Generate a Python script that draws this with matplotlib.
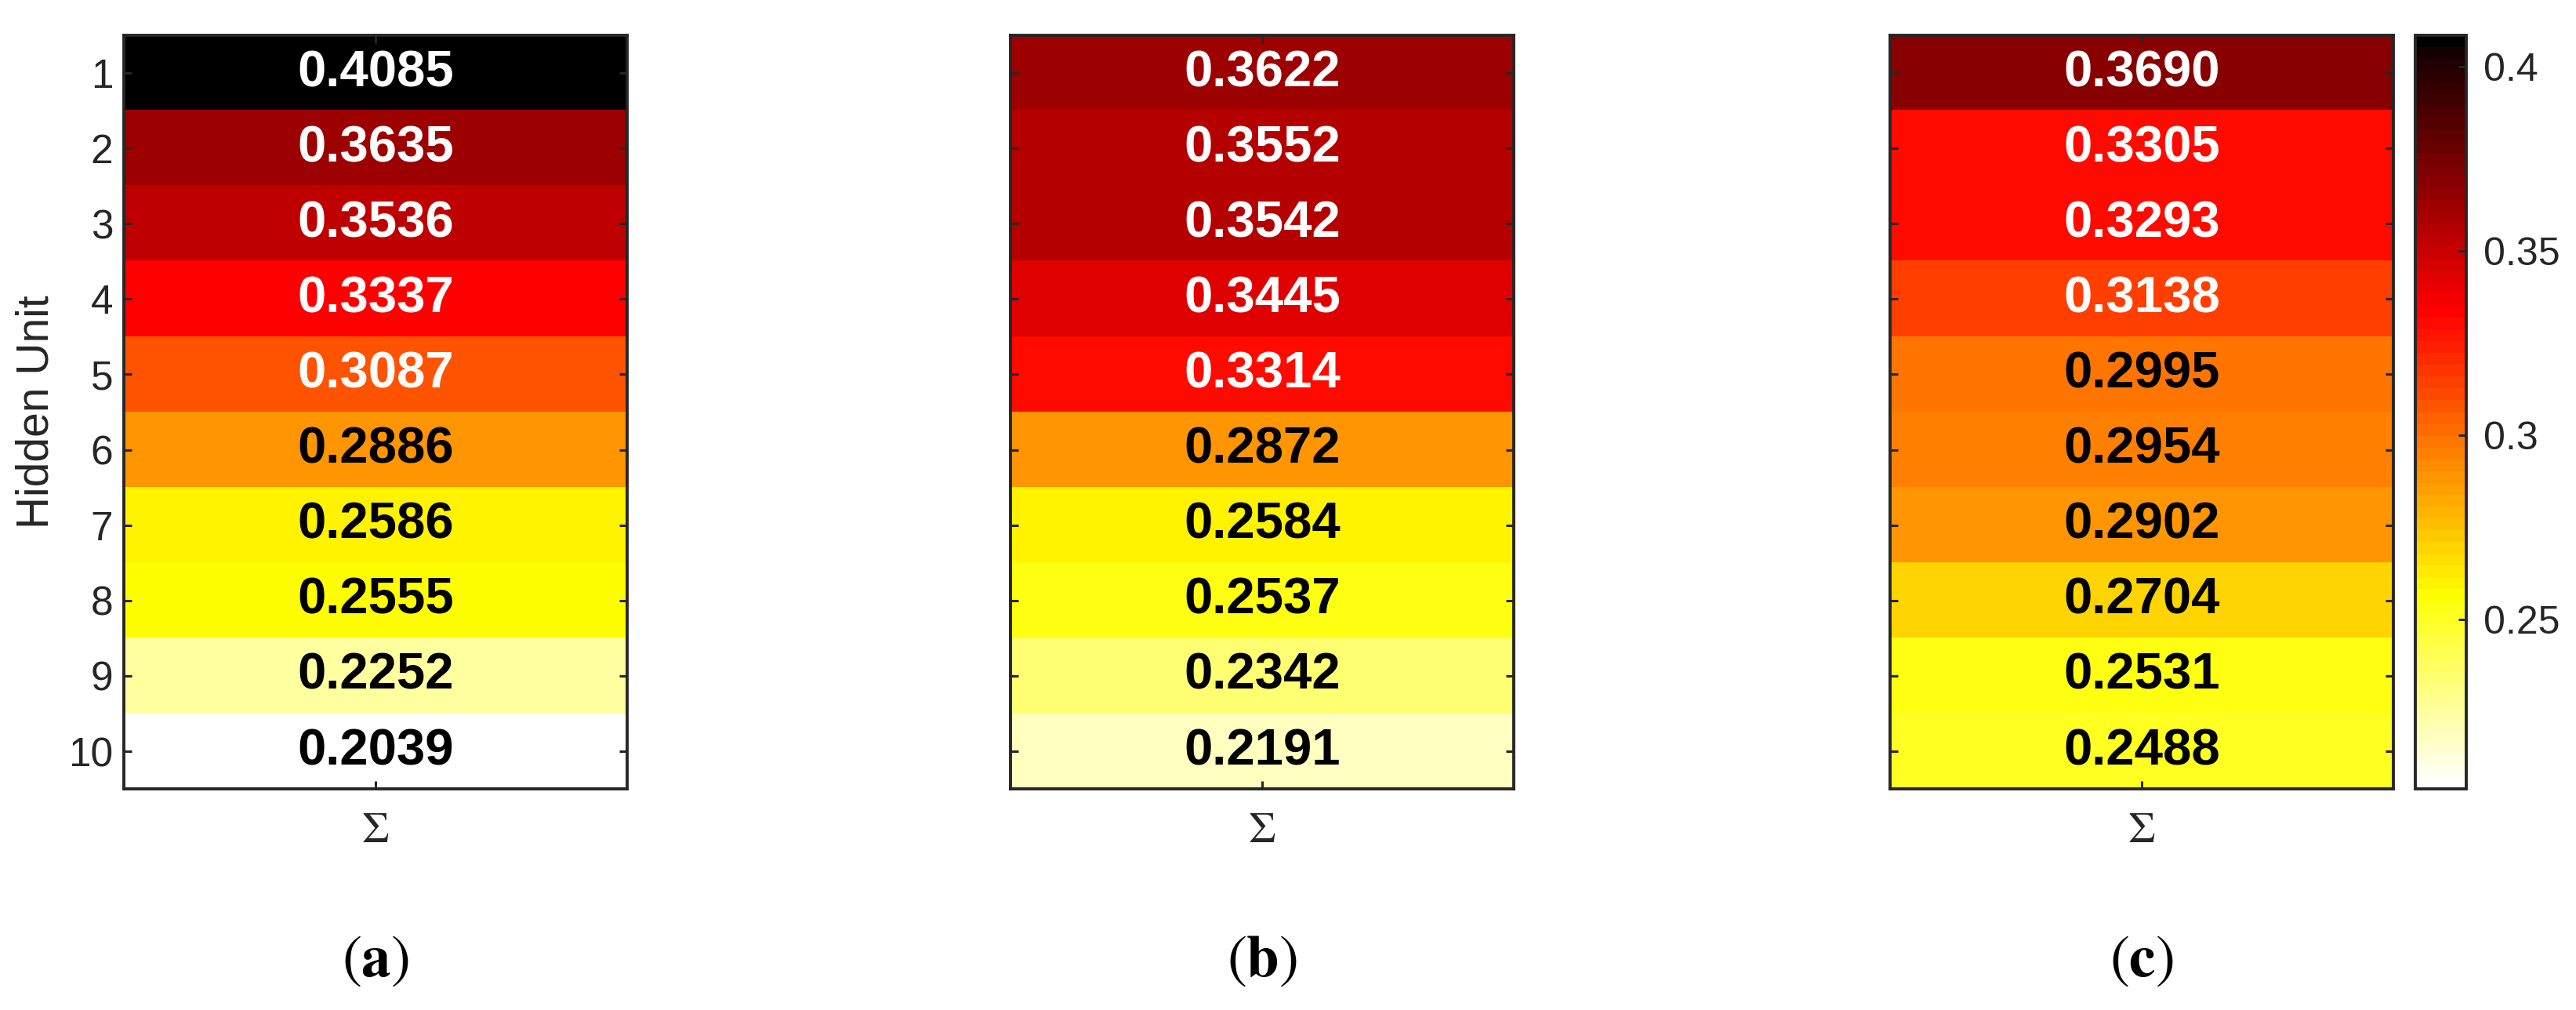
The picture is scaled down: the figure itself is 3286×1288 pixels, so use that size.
import numpy as np
import matplotlib
matplotlib.use("Agg")
import matplotlib.pyplot as plt
from matplotlib.colors import ListedColormap

plt.rcParams['font.family'] = ['Liberation Sans', 'DejaVu Sans']
plt.rcParams['mathtext.fontset'] = 'stix'

hidden_units = [1, 2, 3, 4, 5, 6, 7, 8, 9, 10]
x_labels = [r'$\Sigma$']
panel_labels = ['a', 'b', 'c']

values_a = [0.4085, 0.3635, 0.3536, 0.3337, 0.3087, 0.2886, 0.2586, 0.2555, 0.2252, 0.2039]
values_b = [0.3622, 0.3552, 0.3542, 0.3445, 0.3314, 0.2872, 0.2584, 0.2537, 0.2342, 0.2191]
values_c = [0.3690, 0.3305, 0.3293, 0.3138, 0.2995, 0.2954, 0.2902, 0.2704, 0.2531, 0.2488]

cbar_ticks = [0.25, 0.3, 0.35, 0.4]
cbar_ticklabels = ['0.25', '0.3', '0.35', '0.4']

vmin, vmax = 0.2039, 0.4085

# flipped "hot" with 64 levels, darkest level forced to black
cols = plt.get_cmap('hot_r')(np.linspace(0, 1, 64))
cols[-1] = [0, 0, 0, 1]
cmap = ListedColormap(cols)
edge = '#262626'

fig = plt.figure(figsize=(16.43, 6.44), dpi=200)

lefts = [0.0481, 0.3923, 0.7337]
bottom, width, height = 0.2189, 0.1954, 0.7462

for i, (vals, lab) in enumerate(zip([values_a, values_b, values_c], panel_labels)):
    ax = fig.add_axes([lefts[i], bottom, width, height])
    data = np.array(vals).reshape(-1, 1)
    im = ax.imshow(data, cmap=cmap, vmin=vmin, vmax=vmax, aspect='auto',
                   interpolation='nearest')
    for r, v in enumerate(vals):
        t = (v - vmin) / (vmax - vmin)
        ax.text(0, r, f"{v:.4f}", ha='center', va='center', fontsize=23.5,
                fontweight='bold', color='white' if t > 0.5 else 'black')

    ax.set_xticks([0])
    ax.set_xticklabels(x_labels, fontsize=20, color=edge)
    ax.set_yticks(range(len(hidden_units)))
    if i == 0:
        ax.set_yticklabels([str(h) for h in hidden_units], fontsize=18.5, color=edge)
        ax.set_ylabel('Hidden Unit', fontsize=20.5, color=edge, labelpad=5)
    else:
        ax.set_yticklabels([])
    ax.tick_params(direction='in', top=True, right=True, length=3.6, width=1.1,
                   color=edge)
    ax.tick_params(axis='x', pad=10)
    ax.tick_params(axis='y', pad=5)
    for sp in ax.spines.values():
        sp.set_linewidth(1.4)
        sp.set_color(edge)

    fig.text(lefts[i] + width / 2, 0.0334, r'$(\mathbf{' + lab + r'})$',
             ha='center', va='baseline', fontsize=27)

cax = fig.add_axes([0.9376, bottom, 0.0198, height])
cb = fig.colorbar(im, cax=cax, ticks=cbar_ticks)
cb.ax.set_yticklabels(cbar_ticklabels, fontsize=18, color=edge)
cb.ax.tick_params(direction='in', length=3.6, width=1.1, color=edge, pad=8)
cb.outline.set_linewidth(1.4)
cb.outline.set_edgecolor(edge)

fig.savefig('out.png', dpi=200)
